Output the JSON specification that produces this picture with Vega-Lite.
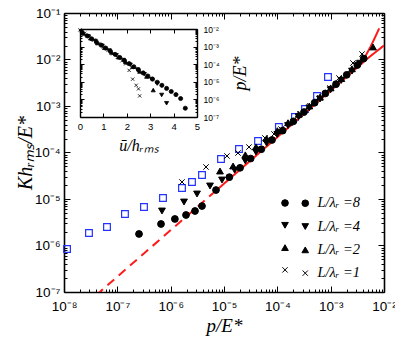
{
  "$schema": "https://vega.github.io/schema/vega-lite/v6.json",
  "width": 320,
  "height": 279,
  "autosize": {"type": "none"},
  "padding": {"left": 64, "top": 13, "right": 11, "bottom": 54},
  "background": "white",
  "config": {
    "view": {"stroke": null},
    "axis": {
      "labelFont": "Liberation Sans",
      "labelColor": "black",
      "domainColor": "black",
      "tickColor": "black",
      "titleColor": "black",
      "grid": false,
      "titleFont": "Liberation Serif",
      "titleFontStyle": "italic",
      "titleFontWeight": "normal",
      "labelFlush": false,
      "labelOverlap": false,
      "labelBound": false
    },
    "legend": {
      "labelFont": "Liberation Serif",
      "labelFontStyle": "italic",
      "labelColor": "black"
    }
  },
  "datasets": {
    "squares": [
      {"p": 1.14e-8, "K": 8.41e-7},
      {"p": 2.94e-8, "K": 1.86e-6},
      {"p": 6.4e-8, "K": 2.5e-6},
      {"p": 1.39e-7, "K": 4.75e-6},
      {"p": 3.16e-7, "K": 6.73e-6},
      {"p": 7.18e-7, "K": 1.05e-5},
      {"p": 1.63e-6, "K": 1.73e-5},
      {"p": 2.51e-6, "K": 2.32e-5},
      {"p": 3.87e-6, "K": 3.28e-5},
      {"p": 8.79e-6, "K": 7.24e-5},
      {"p": 1.91e-5, "K": 1.19e-4},
      {"p": 4.35e-5, "K": 1.77e-4},
      {"p": 1.07e-4, "K": 3.53e-4},
      {"p": 2.14e-4, "K": 5.79e-4},
      {"p": 3.3e-4, "K": 8.61e-4},
      {"p": 5.55e-4, "K": 1.64e-3},
      {"p": 8.91e-4, "K": 4.21e-3}
    ],
    "theory": [
      {"seg": "dash", "p": 4e-8, "K": 8.55e-8},
      {"seg": "dash", "p": 6.31e-6, "K": 1.349e-5},
      {"seg": "A", "p": 6.31e-6, "K": 1.349e-5},
      {"seg": "A", "p": 1e-4, "K": 2.14e-4},
      {"seg": "A", "p": 3.16e-4, "K": 6.76e-4},
      {"seg": "A", "p": 1e-3, "K": 2.14e-3},
      {"seg": "A", "p": 1.585e-3, "K": 3.39e-3},
      {"seg": "A", "p": 2.51e-3, "K": 5.56e-3},
      {"seg": "A", "p": 3.55e-3, "K": 8.32e-3},
      {"seg": "A", "p": 4.47e-3, "K": 1.175e-2},
      {"seg": "A", "p": 5.62e-3, "K": 1.905e-2},
      {"seg": "A", "p": 6.76e-3, "K": 2.95e-2},
      {"seg": "A", "p": 8.13e-3, "K": 4.68e-2},
      {"seg": "B", "p": 1.26e-3, "K": 2.69e-3},
      {"seg": "B", "p": 5.25e-3, "K": 1.12e-2},
      {"seg": "B", "p": 1e-2, "K": 2.0e-2}
    ],
    "main": [
      {"series": "8", "p": 2.55e-7, "K": 1.77e-6},
      {"series": "8", "p": 6.59e-7, "K": 2.9e-6},
      {"series": "8", "p": 1.2e-6, "K": 3.72e-6},
      {"series": "8", "p": 1.94e-6, "K": 4.53e-6},
      {"series": "8", "p": 2.86e-6, "K": 5.52e-6},
      {"series": "8", "p": 3.87e-6, "K": 7.06e-6},
      {"series": "8", "p": 7.08e-6, "K": 1.56e-5},
      {"series": "8", "p": 1.26e-5, "K": 2.95e-5},
      {"series": "8", "p": 2.0e-5, "K": 4.68e-5},
      {"series": "8", "p": 3.16e-5, "K": 7.41e-5},
      {"series": "8", "p": 5.01e-5, "K": 1.175e-4},
      {"series": "8", "p": 7.94e-5, "K": 1.86e-4},
      {"series": "8", "p": 1.26e-4, "K": 2.95e-4},
      {"series": "8", "p": 2.0e-4, "K": 4.68e-4},
      {"series": "8", "p": 3.16e-4, "K": 7.41e-4},
      {"series": "8", "p": 5.01e-4, "K": 1.175e-3},
      {"series": "8", "p": 7.94e-4, "K": 1.86e-3},
      {"series": "8", "p": 1.26e-3, "K": 2.95e-3},
      {"series": "8", "p": 2.0e-3, "K": 4.68e-3},
      {"series": "8", "p": 3.16e-3, "K": 7.59e-3},
      {"series": "8", "p": 4.17e-3, "K": 1.05e-2},
      {"series": "4", "p": 6.87e-7, "K": 5.52e-6},
      {"series": "4", "p": 1.78e-6, "K": 8.61e-6},
      {"series": "4", "p": 3.12e-6, "K": 1.28e-5},
      {"series": "4", "p": 5.47e-6, "K": 1.905e-5},
      {"series": "4", "p": 9.18e-6, "K": 2.56e-5},
      {"series": "4", "p": 1.585e-5, "K": 4.17e-5},
      {"series": "4", "p": 2.51e-5, "K": 6.61e-5},
      {"series": "4", "p": 3.98e-5, "K": 1.02e-4},
      {"series": "4", "p": 6.31e-5, "K": 1.585e-4},
      {"series": "4", "p": 1e-4, "K": 2.45e-4},
      {"series": "4", "p": 1.585e-4, "K": 3.8e-4},
      {"series": "4", "p": 2.51e-4, "K": 5.89e-4},
      {"series": "4", "p": 3.98e-4, "K": 9.12e-4},
      {"series": "4", "p": 6.31e-4, "K": 1.41e-3},
      {"series": "4", "p": 1e-3, "K": 2.24e-3},
      {"series": "4", "p": 1.585e-3, "K": 3.55e-3},
      {"series": "4", "p": 2.51e-3, "K": 5.62e-3},
      {"series": "4", "p": 3.55e-3, "K": 8.32e-3},
      {"series": "2", "p": 8.41e-6, "K": 4.0e-5},
      {"series": "2", "p": 1.48e-5, "K": 5.13e-5},
      {"series": "2", "p": 2.51e-5, "K": 8.91e-5},
      {"series": "2", "p": 3.98e-5, "K": 1.32e-4},
      {"series": "2", "p": 6.31e-5, "K": 2.0e-4},
      {"series": "2", "p": 1e-4, "K": 2.95e-4},
      {"series": "2", "p": 1.585e-4, "K": 4.37e-4},
      {"series": "2", "p": 2.51e-4, "K": 6.61e-4},
      {"series": "2", "p": 3.98e-4, "K": 1.0e-3},
      {"series": "2", "p": 6.31e-4, "K": 1.55e-3},
      {"series": "2", "p": 1e-3, "K": 2.45e-3},
      {"series": "2", "p": 1.585e-3, "K": 3.89e-3},
      {"series": "2", "p": 2.51e-3, "K": 6.31e-3},
      {"series": "2", "p": 6.22e-3, "K": 1.86e-2},
      {"series": "1", "p": 1.63e-6, "K": 2.32e-5},
      {"series": "1", "p": 4.6e-6, "K": 4.88e-5},
      {"series": "1", "p": 1.14e-5, "K": 8.41e-5},
      {"series": "1", "p": 1.83e-5, "K": 9.75e-5},
      {"series": "1", "p": 2.94e-5, "K": 1.31e-4},
      {"series": "1", "p": 5.87e-5, "K": 2.05e-4},
      {"series": "1", "p": 8.67e-5, "K": 2.5e-4},
      {"series": "1", "p": 1.17e-4, "K": 3.2e-4},
      {"series": "1", "p": 1.73e-4, "K": 4.31e-4},
      {"series": "1", "p": 2.66e-4, "K": 6.73e-4},
      {"series": "1", "p": 4.09e-4, "K": 1.0e-3},
      {"series": "1", "p": 6.31e-4, "K": 1.49e-3},
      {"series": "1", "p": 9.73e-4, "K": 2.44e-3},
      {"series": "1", "p": 1.43e-3, "K": 4.0e-3},
      {"series": "1", "p": 2.62e-3, "K": 8.41e-3},
      {"series": "1", "p": 3.87e-3, "K": 1.31e-2}
    ],
    "inset": [
      {"series": "8", "u": 0.1, "P": 6.19e-3},
      {"series": "8", "u": 0.3, "P": 4.13e-3},
      {"series": "8", "u": 0.5, "P": 2.75e-3},
      {"series": "8", "u": 0.7, "P": 1.84e-3},
      {"series": "8", "u": 0.9, "P": 1.22e-3},
      {"series": "8", "u": 1.1, "P": 8.17e-4},
      {"series": "8", "u": 1.3, "P": 5.45e-4},
      {"series": "8", "u": 1.5, "P": 3.63e-4},
      {"series": "8", "u": 1.7, "P": 2.42e-4},
      {"series": "8", "u": 1.9, "P": 1.61e-4},
      {"series": "8", "u": 2.1, "P": 1.08e-4},
      {"series": "8", "u": 2.3, "P": 7.18e-5},
      {"series": "8", "u": 2.5, "P": 4.79e-5},
      {"series": "8", "u": 2.7, "P": 3.19e-5},
      {"series": "8", "u": 2.9, "P": 2.13e-5},
      {"series": "8", "u": 3.1, "P": 1.42e-5},
      {"series": "8", "u": 3.3, "P": 9.46e-6},
      {"series": "8", "u": 3.5, "P": 6.31e-6},
      {"series": "8", "u": 3.7, "P": 4.21e-6},
      {"series": "8", "u": 3.9, "P": 2.81e-6},
      {"series": "8", "u": 4.1, "P": 1.87e-6},
      {"series": "8", "u": 4.3, "P": 1.12e-6},
      {"series": "8", "u": 4.5, "P": 3.16e-7},
      {"series": "4", "u": 0.05, "P": 7.16e-3},
      {"series": "4", "u": 0.35, "P": 3.85e-3},
      {"series": "4", "u": 0.65, "P": 2.07e-3},
      {"series": "4", "u": 0.95, "P": 1.11e-3},
      {"series": "4", "u": 1.25, "P": 5.96e-4},
      {"series": "4", "u": 1.55, "P": 3.2e-4},
      {"series": "4", "u": 1.85, "P": 1.72e-4},
      {"series": "4", "u": 2.15, "P": 9.23e-5},
      {"series": "4", "u": 2.45, "P": 4.95e-5},
      {"series": "4", "u": 2.75, "P": 2.66e-5},
      {"series": "4", "u": 3.05, "P": 1.43e-5},
      {"series": "4", "u": 3.3, "P": 7.94e-6},
      {"series": "4", "u": 3.49, "P": 1.78e-6},
      {"series": "4", "u": 3.7, "P": 6.03e-7},
      {"series": "2", "u": 0.15, "P": 5.56e-3},
      {"series": "2", "u": 0.45, "P": 2.99e-3},
      {"series": "2", "u": 0.75, "P": 1.6e-3},
      {"series": "2", "u": 1.05, "P": 8.61e-4},
      {"series": "2", "u": 1.35, "P": 4.62e-4},
      {"series": "2", "u": 1.65, "P": 2.48e-4},
      {"series": "2", "u": 1.95, "P": 1.33e-4},
      {"series": "2", "u": 2.25, "P": 7.16e-5},
      {"series": "2", "u": 2.55, "P": 3.85e-5},
      {"series": "2", "u": 2.85, "P": 2.0e-5},
      {"series": "2", "u": 3.13, "P": 3.39e-6},
      {"series": "1", "u": 0.0, "P": 8.91e-3},
      {"series": "1", "u": 0.2, "P": 5.7e-3},
      {"series": "1", "u": 0.4, "P": 3.65e-3},
      {"series": "1", "u": 0.6, "P": 2.33e-3},
      {"series": "1", "u": 0.8, "P": 1.49e-3},
      {"series": "1", "u": 1.0, "P": 9.55e-4},
      {"series": "1", "u": 1.2, "P": 6.11e-4},
      {"series": "1", "u": 1.4, "P": 3.91e-4},
      {"series": "1", "u": 1.6, "P": 2.5e-4},
      {"series": "1", "u": 1.8, "P": 1.585e-4},
      {"series": "1", "u": 1.95, "P": 1.05e-4},
      {"series": "1", "u": 2.1, "P": 4.47e-5},
      {"series": "1", "u": 2.25, "P": 1.41e-5},
      {"series": "1", "u": 2.4, "P": 6.31e-6},
      {"series": "1", "u": 2.5, "P": 3.98e-6},
      {"series": "1", "u": 2.55, "P": 1.585e-6}
    ]
  },
  "layer": [
    {
      "layer": [
        {
          "data": {"name": "squares"},
          "mark": {"type": "point", "shape": "square", "filled": false, "stroke": "#2233ff", "strokeWidth": 1.2, "size": 45, "opacity": 1},
          "encoding": {
            "x": {"field": "p", "type": "quantitative",
              "scale": {"type": "log", "domain": [1e-8, 1e-2], "nice": false},
              "axis": {"orient": "bottom",
                "values": [1e-8,2e-8,3e-8,4e-8,5e-8,6e-8,7e-8,8e-8,9e-8,1e-7,2e-7,3e-7,4e-7,5e-7,6e-7,7e-7,8e-7,9e-7,1e-6,2e-6,3e-6,4e-6,5e-6,6e-6,7e-6,8e-6,9e-6,1e-5,2e-5,3e-5,4e-5,5e-5,6e-5,7e-5,8e-5,9e-5,1e-4,2e-4,3e-4,4e-4,5e-4,6e-4,7e-4,8e-4,9e-4,1e-3,2e-3,3e-3,4e-3,5e-3,6e-3,7e-3,8e-3,9e-3,1e-2],
                "labelExpr": "abs(log(datum.value)/LN10 - round(log(datum.value)/LN10)) < 0.001 ? '10⁻' + ['⁰','¹','²','³','⁴','⁵','⁶','⁷','⁸','⁹'][-round(log(datum.value)/LN10)] : ''",
                "labelFontSize": 13.5,
                "tickSize": {"condition": {"test": "abs(log(datum.value)/LN10 - round(log(datum.value)/LN10)) < 0.001", "value": -6}, "value": -3},
                "labelPadding": 13,
                "domainWidth": 1.6,
                "title": "p/E*",
                "titleFontSize": 19,
                "titlePadding": 1}},
            "y": {"field": "K", "type": "quantitative",
              "scale": {"type": "log", "domain": [1e-7, 1e-1], "nice": false},
              "axis": {"orient": "left",
                "values": [1e-7,2e-7,3e-7,4e-7,5e-7,6e-7,7e-7,8e-7,9e-7,1e-6,2e-6,3e-6,4e-6,5e-6,6e-6,7e-6,8e-6,9e-6,1e-5,2e-5,3e-5,4e-5,5e-5,6e-5,7e-5,8e-5,9e-5,1e-4,2e-4,3e-4,4e-4,5e-4,6e-4,7e-4,8e-4,9e-4,1e-3,2e-3,3e-3,4e-3,5e-3,6e-3,7e-3,8e-3,9e-3,1e-2,2e-2,3e-2,4e-2,5e-2,6e-2,7e-2,8e-2,9e-2,1e-1],
                "labelExpr": "abs(log(datum.value)/LN10 - round(log(datum.value)/LN10)) < 0.001 ? '10⁻' + ['⁰','¹','²','³','⁴','⁵','⁶','⁷','⁸','⁹'][-round(log(datum.value)/LN10)] : ''",
                "labelFontSize": 13.5,
                "tickSize": {"condition": {"test": "abs(log(datum.value)/LN10 - round(log(datum.value)/LN10)) < 0.001", "value": -6}, "value": -3},
                "labelPadding": 10,
                "domainWidth": 1.6,
                "title": "Khᵣₘₛ/E*",
                "titleFontSize": 20,
                "titlePadding": -1}}
          }
        },
        {
          "data": {"name": "theory"},
          "mark": {"type": "line", "color": "#ff1a1a", "strokeWidth": 2, "clip": true},
          "encoding": {
            "x": {"field": "p", "type": "quantitative",
              "axis": {"orient": "top",
                "values": [1e-8,2e-8,3e-8,4e-8,5e-8,6e-8,7e-8,8e-8,9e-8,1e-7,2e-7,3e-7,4e-7,5e-7,6e-7,7e-7,8e-7,9e-7,1e-6,2e-6,3e-6,4e-6,5e-6,6e-6,7e-6,8e-6,9e-6,1e-5,2e-5,3e-5,4e-5,5e-5,6e-5,7e-5,8e-5,9e-5,1e-4,2e-4,3e-4,4e-4,5e-4,6e-4,7e-4,8e-4,9e-4,1e-3,2e-3,3e-3,4e-3,5e-3,6e-3,7e-3,8e-3,9e-3,1e-2],
                "labels": false, "title": null, "domainWidth": 1.6,
                "tickSize": {"condition": {"test": "abs(log(datum.value)/LN10 - round(log(datum.value)/LN10)) < 0.001", "value": -6}, "value": -3}}},
            "y": {"field": "K", "type": "quantitative",
              "axis": {"orient": "right",
                "values": [1e-7,2e-7,3e-7,4e-7,5e-7,6e-7,7e-7,8e-7,9e-7,1e-6,2e-6,3e-6,4e-6,5e-6,6e-6,7e-6,8e-6,9e-6,1e-5,2e-5,3e-5,4e-5,5e-5,6e-5,7e-5,8e-5,9e-5,1e-4,2e-4,3e-4,4e-4,5e-4,6e-4,7e-4,8e-4,9e-4,1e-3,2e-3,3e-3,4e-3,5e-3,6e-3,7e-3,8e-3,9e-3,1e-2,2e-2,3e-2,4e-2,5e-2,6e-2,7e-2,8e-2,9e-2,1e-1],
                "labels": false, "title": null, "domainWidth": 1.6,
                "tickSize": {"condition": {"test": "abs(log(datum.value)/LN10 - round(log(datum.value)/LN10)) < 0.001", "value": -6}, "value": -3}}},
            "detail": {"field": "seg"},
            "strokeDash": {"field": "seg", "type": "nominal",
              "scale": {"domain": ["dash", "A", "B"], "range": [[9, 6], [1, 0], [1, 0]]},
              "legend": null}
          }
        },
        {
          "data": {"name": "main"},
          "mark": {"type": "point", "filled": true, "stroke": "black", "strokeWidth": 1, "size": 46, "opacity": 1},
          "encoding": {
            "x": {"field": "p", "type": "quantitative", "axis": null},
            "y": {"field": "K", "type": "quantitative", "axis": null},
            "shape": {"field": "series", "type": "nominal",
              "scale": {"domain": ["8", "4", "2", "1"], "range": ["circle", "triangle-down", "triangle-up", "M-0.8,-0.8L0.8,0.8M-0.8,0.8L0.8,-0.8"]},
              "legend": {"orient": "none", "legendX": 214, "legendY": 183, "title": null, "padding": 0, "labelFontSize": 14, "labelOffset": 5, "rowPadding": 8.3, "symbolSize": 44, "symbolStrokeColor": "black", "symbolStrokeWidth": 1, "symbolOpacity": 1,
                "labelExpr": "''",
                "encode": {"symbols": {"update": {"stroke": {"value": "black"}, "strokeWidth": {"value": 1}}}}}},
            "fill": {"field": "series", "type": "nominal",
              "scale": {"domain": ["8", "4", "2", "1"], "range": ["black", "black", "black", "transparent"]},
              "legend": {"orient": "none", "legendX": 214, "legendY": 183, "title": null, "padding": 0, "labelFontSize": 14, "labelOffset": 5, "rowPadding": 8.3, "symbolSize": 44, "symbolStrokeColor": "black", "symbolStrokeWidth": 1, "symbolOpacity": 1,
                "labelExpr": "''",
                "encode": {"symbols": {"update": {"stroke": {"value": "black"}, "strokeWidth": {"value": 1}}}}}}
          }
        }
      ],
      "resolve": {"axis": {"x": "independent", "y": "independent"}}
    },
    {
      "data": {"name": "inset"},
      "layer": [
        {
          "mark": {"type": "point", "filled": true, "stroke": "black", "strokeWidth": 0.8, "size": 17, "opacity": 1},
          "encoding": {
            "x": {"field": "u", "type": "quantitative",
              "scale": {"domain": [0, 5], "range": [16, 133], "nice": false, "zero": false},
              "axis": {"orient": "bottom", "offset": -175, "values": [0, 1, 2, 3, 4, 5], "tickSize": -4, "labelFontSize": 9.5, "labelPadding": 8, "domainWidth": 1.4,
                "title": "ū/hᵣₘₛ", "titleFontSize": 16, "titlePadding": 7}},
            "y": {"field": "P", "type": "quantitative",
              "scale": {"type": "log", "domain": [1e-7, 1e-2], "range": [104, 16], "nice": false},
              "axis": {"orient": "right", "offset": -187,
                "values": [1e-7,2e-7,3e-7,4e-7,5e-7,6e-7,7e-7,8e-7,9e-7,1e-6,2e-6,3e-6,4e-6,5e-6,6e-6,7e-6,8e-6,9e-6,1e-5,2e-5,3e-5,4e-5,5e-5,6e-5,7e-5,8e-5,9e-5,1e-4,2e-4,3e-4,4e-4,5e-4,6e-4,7e-4,8e-4,9e-4,1e-3,2e-3,3e-3,4e-3,5e-3,6e-3,7e-3,8e-3,9e-3,1e-2],
                "labelExpr": "abs(log(datum.value)/LN10 - round(log(datum.value)/LN10)) < 0.001 ? '10⁻' + ['⁰','¹','²','³','⁴','⁵','⁶','⁷','⁸','⁹'][-round(log(datum.value)/LN10)] : ''",
                "labelFontSize": 8.5,
                "tickSize": {"condition": {"test": "abs(log(datum.value)/LN10 - round(log(datum.value)/LN10)) < 0.001", "value": -4}, "value": -2},
                "labelPadding": 10, "domainWidth": 1.4,
                "title": "p/E*", "titleAngle": 270, "titleFontSize": 18, "titlePadding": 30}},
            "shape": {"field": "series", "type": "nominal",
              "scale": {"domain": ["8", "4", "2", "1"], "range": ["circle", "triangle-down", "triangle-up", "M-0.8,-0.8L0.8,0.8M-0.8,0.8L0.8,-0.8"]},
              "legend": {"orient": "none", "legendX": 234, "legendY": 183, "title": null, "padding": 0, "labelFontSize": 14.5, "labelOffset": 5, "rowPadding": 8.3, "symbolSize": 44, "symbolStrokeColor": "black", "symbolStrokeWidth": 1, "symbolOpacity": 1,
                "labelExpr": "'L/λᵣ =' + datum.label",
                "encode": {"symbols": {"update": {"stroke": {"value": "black"}, "strokeWidth": {"value": 1}}}}}},
            "fill": {"field": "series", "type": "nominal",
              "scale": {"domain": ["8", "4", "2", "1"], "range": ["black", "black", "black", "transparent"]},
              "legend": {"orient": "none", "legendX": 234, "legendY": 183, "title": null, "padding": 0, "labelFontSize": 14.5, "labelOffset": 5, "rowPadding": 8.3, "symbolSize": 44, "symbolStrokeColor": "black", "symbolStrokeWidth": 1, "symbolOpacity": 1,
                "labelExpr": "'L/λᵣ =' + datum.label",
                "encode": {"symbols": {"update": {"stroke": {"value": "black"}, "strokeWidth": {"value": 1}}}}}}
          }
        },
        {
          "mark": {"type": "point", "opacity": 0},
          "encoding": {
            "x": {"field": "u", "type": "quantitative",
              "axis": {"orient": "top", "offset": -16, "values": [0, 1, 2, 3, 4, 5], "tickSize": -4, "labels": false, "title": null, "domainWidth": 1.4}},
            "y": {"field": "P", "type": "quantitative",
              "axis": {"orient": "left", "offset": -16,
                "values": [1e-7,2e-7,3e-7,4e-7,5e-7,6e-7,7e-7,8e-7,9e-7,1e-6,2e-6,3e-6,4e-6,5e-6,6e-6,7e-6,8e-6,9e-6,1e-5,2e-5,3e-5,4e-5,5e-5,6e-5,7e-5,8e-5,9e-5,1e-4,2e-4,3e-4,4e-4,5e-4,6e-4,7e-4,8e-4,9e-4,1e-3,2e-3,3e-3,4e-3,5e-3,6e-3,7e-3,8e-3,9e-3,1e-2],
                "tickSize": {"condition": {"test": "abs(log(datum.value)/LN10 - round(log(datum.value)/LN10)) < 0.001", "value": -4}, "value": -2},
                "labels": false, "title": null, "domainWidth": 1.4}}
          }
        }
      ],
      "resolve": {"axis": {"x": "independent", "y": "independent"}}
    }
  ],
  "resolve": {"scale": {"x": "independent", "y": "independent", "shape": "independent", "fill": "independent"}}
}
